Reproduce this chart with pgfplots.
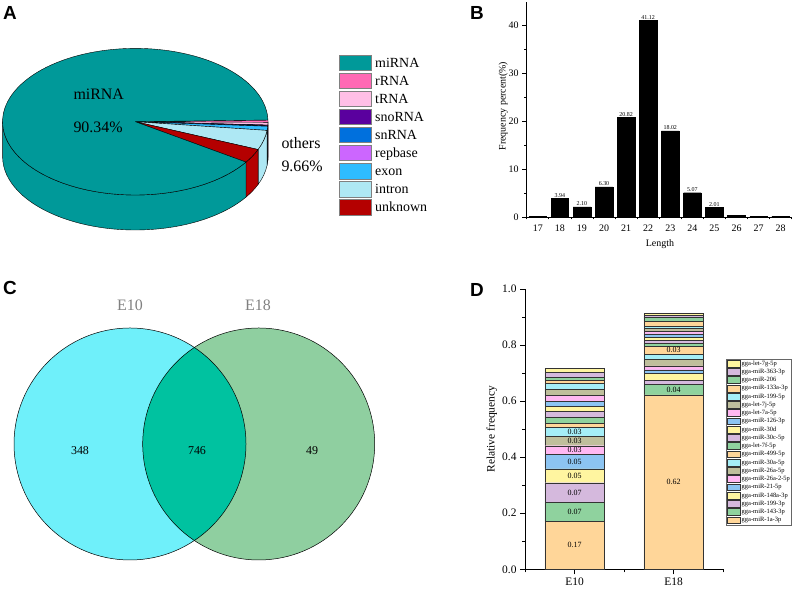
\documentclass[border=0pt]{standalone}
\usepackage{pgfplots}
\pgfplotsset{compat=1.18}
\usepackage{fontspec}
\setmainfont{Liberation Serif}
\newfontfamily\lettfont{Liberation Sans}

% pie colours
\definecolor{pMi}{HTML}{009999}
\definecolor{pRr}{HTML}{FF69B4}
\definecolor{pTr}{HTML}{FFBFE6}
\definecolor{pSno}{HTML}{5A009E}
\definecolor{pSn}{HTML}{0070DD}
\definecolor{pRep}{HTML}{CC66FF}
\definecolor{pEx}{HTML}{2EBCFF}
\definecolor{pIn}{HTML}{AEE8F4}
\definecolor{pUn}{HTML}{B40000}
% venn colours
\definecolor{vL}{HTML}{6FF0FA}
\definecolor{vR}{HTML}{8FCFA0}
\definecolor{vI}{HTML}{00C2A0}
% stacked bar colours
\definecolor{cOr}{HTML}{FFD699}
\definecolor{cGr}{HTML}{8FD29E}
\definecolor{cLa}{HTML}{D5B9DD}
\definecolor{cYe}{HTML}{FFF5A0}
\definecolor{cBl}{HTML}{8CC4F2}
\definecolor{cPi}{HTML}{FFB8F2}
\definecolor{cKh}{HTML}{BFBF9C}
\definecolor{cCy}{HTML}{A5EEF7}

% 3d pie geometry (bp)
\def\pcx{135.3}\def\pcy{467.3}\def\prx{132.7}\def\pry{73.3}\def\pdep{35}
\def\pieang{1.3}

% front wall of a slice: #1 percent, #2 colour (slices run clockwise)
\newcommand\pieside[2]{%
  \pgfmathsetmacro\pa{\pieang}%
  \pgfmathsetmacro\pb{\pieang-3.6*#1}%
  \xdef\pieang{\pb}%
  \pgfmathsetmacro\slo{max(\pb,-180)}%
  \pgfmathsetmacro\shi{min(\pa,0)}%
  \ifdim\slo pt<\shi pt
    \pgfmathsetmacro\pxa{\pcx+\prx*cos(\slo)}%
    \pgfmathsetmacro\pya{\pcy+\pry*sin(\slo)}%
    \pgfmathsetmacro\pxb{\pcx+\prx*cos(\shi)}%
    \pgfmathsetmacro\pyb{\pcy+\pry*sin(\shi)-\pdep}%
    \edef\pietmp{\noexpand\filldraw[fill=#2,draw=black,line width=0.4pt,line join=round]
      (axis cs:\pxa,\pya) arc[start angle=\slo,end angle=\shi,x radius=\prx bp,y radius=\pry bp]
      -- (axis cs:\pxb,\pyb) arc[start angle=\shi,end angle=\slo,x radius=\prx bp,y radius=\pry bp] -- cycle;}%
    \pietmp
  \fi}
% top face of a slice
\newcommand\pietop[2]{%
  \pgfmathsetmacro\pa{\pieang}%
  \pgfmathsetmacro\pb{\pieang-3.6*#1}%
  \xdef\pieang{\pb}%
  \pgfmathsetmacro\pxa{\pcx+\prx*cos(\pa)}%
  \pgfmathsetmacro\pya{\pcy+\pry*sin(\pa)}%
  \edef\pietmp{\noexpand\filldraw[fill=#2,draw=black,line width=0.4pt,line join=round]
    (axis cs:\pcx,\pcy) -- (axis cs:\pxa,\pya)
    arc[start angle=\pa,end angle=\pb,x radius=\prx bp,y radius=\pry bp] -- cycle;}%
  \pietmp}

% percent / colour, clockwise from the right edge
\def\pieslices{0.50/pRr,0.60/pTr,0.05/pSno,0.10/pSn,0.11/pRep,0.90/pEx,4.30/pIn,3.10/pUn,90.34/pMi}

\begin{document}
\begin{tikzpicture}[x=1bp,y=1bp]
\useasboundingbox (0,0) rectangle (796,589);

% ---------- A and C: hidden canvas axis, 1 unit = 1bp ----------
\begin{axis}[at={(0bp,0bp)}, anchor=south west, scale only axis,
    width=796bp, height=589bp, xmin=0, xmax=796, ymin=0, ymax=589,
    hide axis, clip=false]
  % pie walls, then faces
  \gdef\pieang{1.3}
  \foreach \p/\c in \pieslices {\pieside{\p}{\c}}
  \gdef\pieang{1.3}
  \foreach \p/\c in \pieslices {\pietop{\p}{\c}}
  \node[anchor=base west, font=\fontsize{16}{18}\selectfont] at (axis cs:70,489.7) {miRNA};
  \node[anchor=base west, font=\fontsize{16}{18}\selectfont] at (axis cs:70,456.3) {90.34\%};
  \node[anchor=base west, font=\fontsize{16}{18}\selectfont] at (axis cs:278,440) {others};
  \node[anchor=base west, font=\fontsize{16}{18}\selectfont] at (axis cs:278,417.3) {9.66\%};

  % venn: E10 only 348, shared 746, E18 only 49
  \fill[vL] (axis cs:130,145) circle[radius=116bp];
  \fill[vR] (axis cs:258.7,145) circle[radius=116bp];
  \fill[vI] (axis cs:194.35,241.51) arc[start angle=56.3,end angle=-56.3,radius=116bp]
      arc[start angle=236.3,end angle=123.7,radius=116bp] -- cycle;
  \draw[black, line width=0.5pt] (axis cs:130,145) circle[radius=116bp];
  \draw[black, line width=0.5pt] (axis cs:258.7,145) circle[radius=116bp];
  \node[font=\fontsize{12}{14}\selectfont] at (axis cs:80,138) {348};
  \node[font=\fontsize{12}{14}\selectfont] at (axis cs:197,138) {746};
  \node[font=\fontsize{12}{14}\selectfont] at (axis cs:312,138) {49};
  \node[font=\fontsize{16}{18}\selectfont, text=black!50] at (axis cs:130,284) {E10};
  \node[font=\fontsize{16}{18}\selectfont, text=black!50] at (axis cs:258,284) {E18};
\end{axis}

% pie legend
\foreach \c/\lab [count=\i from 0] in {pMi/miRNA,pRr/rRNA,pTr/tRNA,pSno/snoRNA,pSn/snRNA,pRep/repbase,pEx/exon,pIn/intron,pUn/unknown}{
  \filldraw[fill=\c, draw=black!50, line width=0.8pt] (339,534-18.04*\i) rectangle (371,518.3-18.04*\i);
  \node[anchor=base west, inner sep=0pt, font=\rmfamily\fontsize{14}{16}\selectfont] at (375,521.7-18.04*\i) {\lab};
}

% panel letters
\node[anchor=base west, inner sep=0pt, font=\lettfont\bfseries\fontsize{19}{21}\selectfont] at (3,569) {A};
\node[anchor=base west, inner sep=0pt, font=\lettfont\bfseries\fontsize{19}{21}\selectfont] at (470,569) {B};
\node[anchor=base west, inner sep=0pt, font=\lettfont\bfseries\fontsize{19}{21}\selectfont] at (3,294) {C};
\node[anchor=base west, inner sep=0pt, font=\lettfont\bfseries\fontsize{19}{21}\selectfont] at (470,292) {D};

% ---------- B: length distribution ----------
\begin{axis}[at={(526.7bp,372bp)}, anchor=south west, scale only axis,
    width=265bp, height=215.3bp,
    xmin=16.5, xmax=28.5, ymin=0, ymax=45,
    axis lines=left, axis line style={-, line width=0.6pt},
    ybar, bar width=0.8, clip=false,
    xtick={17,...,28}, minor xtick={16.5,17.5,...,28.5},
    major x tick style={draw=none},
    ytick={0,10,20,30,40}, minor ytick={5,15,25,35},
    tick align=outside, major tick length=4.5bp, minor tick length=2.5bp,
    tick style={black, line width=0.6pt},
    /pgf/number format/assume math mode=true,
    tick label style={font=\fontsize{10}{12}\selectfont},
    label style={font=\fontsize{10}{12}\selectfont},
    xlabel={Length}, ylabel={Frequency percent(\%)},
    xlabel style={at={(axis description cs:0.503,-0.125)}, anchor=center},
    ylabel style={at={(axis description cs:-0.089,0.515)}, anchor=center},
  ]
  \addplot[fill=black, draw=black] coordinates {
    (17,0.10) (18,3.94) (19,2.10) (20,6.30) (21,20.82) (22,41.12)
    (23,18.02) (24,5.07) (25,2.01) (26,0.30) (27,0.10) (28,0.20)};
  \foreach \x/\v in {18/3.94,19/2.10,20/6.30,21/20.82,22/41.12,23/18.02,24/5.07,25/2.01}{
    \edef\tmp{\noexpand\node[above, inner sep=0.8bp, font=\noexpand\fontsize{6}{7}\noexpand\selectfont] at (axis cs:\x,\v) {\v};}\tmp}
\end{axis}

% ---------- D: relative frequency ----------
\begin{axis}[at={(525bp,19.7bp)}, anchor=south west, scale only axis,
    width=198bp, height=280.3bp,
    xmin=0.5, xmax=2.5, ymin=0, ymax=1,
    axis lines=left, axis line style={-, line width=0.6pt},
    ybar stacked, bar width=0.6, clip=false,
    every axis plot/.append style={draw=black!80, line width=0.35pt},
    xtick={1,2}, xticklabels={E10,E18}, minor xtick={0.5,1.5,2.5},
    ytick={0,0.2,0.4,0.6,0.8,1}, minor ytick={0.1,0.3,0.5,0.7,0.9},
    yticklabel style={/pgf/number format/.cd, fixed, fixed zerofill, precision=1},
    tick align=outside, major tick length=5bp, minor tick length=3bp,
    tick style={black, line width=0.6pt},
    /pgf/number format/assume math mode=true,
    tick label style={font=\fontsize{11.5}{13}\selectfont},
    label style={font=\fontsize{11.5}{13}\selectfont},
    ylabel={Relative frequency},
    ylabel style={at={(axis description cs:-0.168,0.5)}, anchor=center},
    reverse legend, legend cell align=left,
    legend image code/.code={\draw[#1] (0bp,-3.3bp) rectangle (13bp,3.5bp);},
    legend style={at={(1.0136,0.7513)}, anchor=north west, draw=black!60,
      line width=0.5pt, font=\fontsize{6.5}{7}\selectfont,
      inner sep=1bp, row sep=1.1bp, column sep=1bp, nodes={inner sep=0.4bp}},
  ]
  \addplot[fill=cOr] coordinates {(1,0.172) (2,0.622)}; \addlegendentry{gga-miR-1a-3p}
  \addplot[fill=cGr] coordinates {(1,0.066) (2,0.037)}; \addlegendentry{gga-miR-143-3p}
  \addplot[fill=cLa] coordinates {(1,0.071) (2,0.016)}; \addlegendentry{gga-miR-199-3p}
  \addplot[fill=cYe] coordinates {(1,0.049) (2,0.024)}; \addlegendentry{gga-miR-148a-3p}
  \addplot[fill=cBl] coordinates {(1,0.051) (2,0.012)}; \addlegendentry{gga-miR-21-5p}
  \addplot[fill=cPi] coordinates {(1,0.032) (2,0.015)}; \addlegendentry{gga-miR-26a-2-5p}
  \addplot[fill=cKh] coordinates {(1,0.033) (2,0.022)}; \addlegendentry{gga-miR-26a-5p}
  \addplot[fill=cCy] coordinates {(1,0.032) (2,0.018)}; \addlegendentry{gga-miR-30a-5p}
  \addplot[fill=cOr] coordinates {(1,0.014) (2,0.030)}; \addlegendentry{gga-miR-499-5p}
  \addplot[fill=cGr] coordinates {(1,0.023) (2,0.010)}; \addlegendentry{gga-let-7f-5p}
  \addplot[fill=cLa] coordinates {(1,0.021) (2,0.010)}; \addlegendentry{gga-miR-30c-5p}
  \addplot[fill=cYe] coordinates {(1,0.018) (2,0.012)}; \addlegendentry{gga-miR-30d}
  \addplot[fill=cBl] coordinates {(1,0.017) (2,0.012)}; \addlegendentry{gga-miR-126-3p}
  \addplot[fill=cPi] coordinates {(1,0.021) (2,0.010)}; \addlegendentry{gga-let-7a-5p}
  \addplot[fill=cKh] coordinates {(1,0.022) (2,0.009)}; \addlegendentry{gga-let-7j-5p}
  \addplot[fill=cCy] coordinates {(1,0.022) (2,0.008)}; \addlegendentry{gga-miR-199-5p}
  \addplot[fill=cOr] coordinates {(1,0.009) (2,0.018)}; \addlegendentry{gga-miR-133a-3p}
  \addplot[fill=cGr] coordinates {(1,0.012) (2,0.015)}; \addlegendentry{gga-miR-206}
  \addplot[fill=cLa] coordinates {(1,0.018) (2,0.006)}; \addlegendentry{gga-miR-363-3p}
  \addplot[fill=cYe] coordinates {(1,0.014) (2,0.006)}; \addlegendentry{gga-let-7g-5p}
\end{axis}

% D segment labels, on an overlay axis with the same frame so they sit above the bars
\begin{axis}[at={(525bp,19.7bp)}, anchor=south west, scale only axis,
    width=198bp, height=280.3bp,
    xmin=0.5, xmax=2.5, ymin=0, ymax=1, hide axis, clip=false]
  \foreach \x/\y/\lab in {1/0.086/0.17,1/0.205/0.07,1/0.2735/0.07,1/0.3335/0.05,1/0.3835/0.05,
      1/0.425/0.03,1/0.4575/0.03,1/0.49/0.03,2/0.311/0.62,2/0.6405/0.04,2/0.781/0.03}{
    \edef\tmp{\noexpand\node[font=\noexpand\fontsize{8}{9}\noexpand\selectfont] at (axis cs:\x,\y) {\lab};}\tmp}
\end{axis}
\end{tikzpicture}
\end{document}
